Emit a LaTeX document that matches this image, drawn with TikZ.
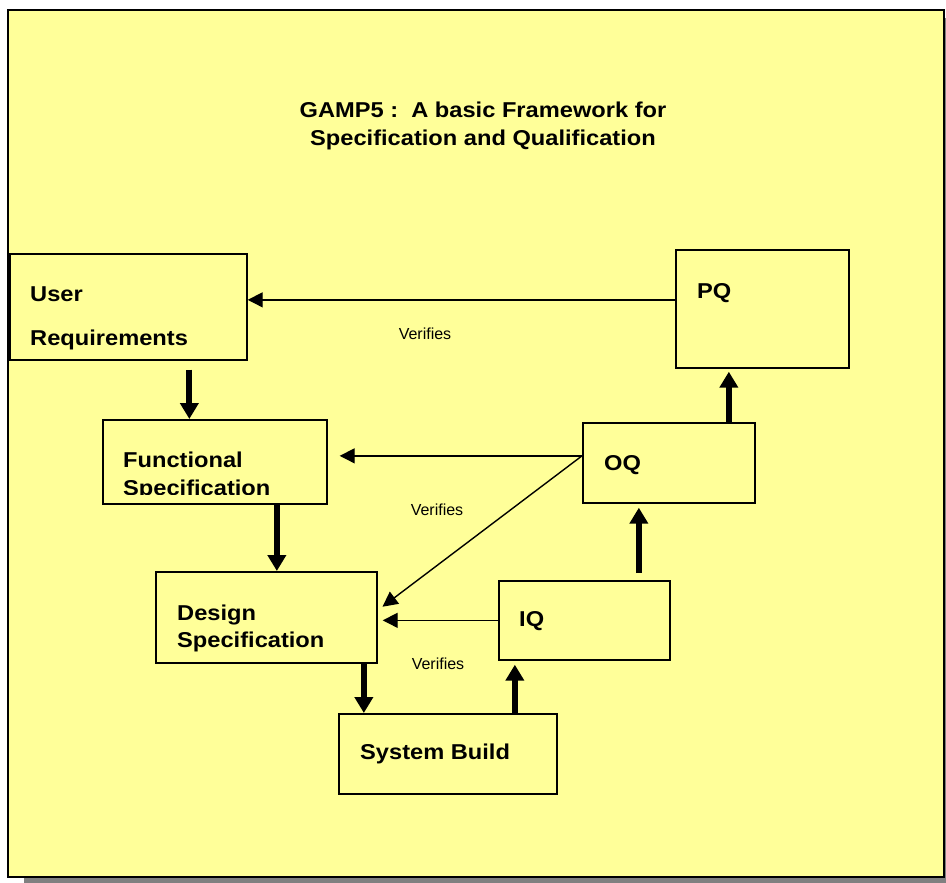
\documentclass[tikz,border=0pt]{standalone}
\usepackage{fontspec}
\setmainfont{Liberation Sans}
\newfontfamily\boxfont[FakeStretch=1.1]{Liberation Sans}
\usetikzlibrary{arrows.meta,positioning}
\definecolor{paper}{HTML}{FFFF99}
\tikzset{
  stage/.style={draw,line width=1.7pt,fill=paper,anchor=north west,inner sep=0pt},
  stagetext/.style={anchor=north west,inner sep=0pt,align=left,font=\boxfont\bfseries\fontsize{21.5}{27}\selectfont},
  verif/.style={font=\fontsize{16}{18}\selectfont,inner sep=0pt},
  thinarrow/.style={line width=1.4pt,-{Triangle[length=15pt,width=15pt]}},
  fatarrow/.style={line width=6pt,-{Triangle[length=16pt,width=18pt]}}
}
\begin{document}
\begin{tikzpicture}[x=1pt,y=-1pt]
    \useasboundingbox (0,0) rectangle (946,883);
    \fill[gray] (24,18) rectangle (952,884);
    \draw[fill=paper,line width=2pt] (8,10) rectangle (944,877);
    \node[anchor=north,align=center,inner sep=0pt,font=\boxfont\bfseries\fontsize{21.5}{28}\selectfont] (title) at (483,102) {GAMP5 :\ \ A basic Framework for\\Specification and Qualification};
    \node[stage,minimum width=237pt,minimum height=106pt] (ur) at (9,253) {};
    \node[stage,minimum width=224pt,minimum height=84pt] (fs) at (102,419) {};
    \node[stage,minimum width=173pt,minimum height=118pt] (pq) at (675,249) {};
    \node[stage,minimum width=172pt,minimum height=80pt] (oq) at (582,422) {};
    \node[stage,minimum width=221pt,minimum height=91pt] (ds) at (155,571) {};
    \node[stage,minimum width=171pt,minimum height=79pt] (iq) at (498,580) {};
    \node[stage,minimum width=218pt,minimum height=80pt] (sb) at (338,713) {};
    \node[stagetext,font=\boxfont\bfseries\fontsize{21.5}{44}\selectfont,below right=34pt and 21pt of ur.north west] (urtext) {User\\Requirements};
    \begin{scope}
        \clip (fs.north west) rectangle ([yshift=10pt]fs.south east);
        \node[stagetext,font=\boxfont\bfseries\fontsize{21.5}{28}\selectfont,below right=33pt and 21pt of fs.north west] (fstext) {Functional\\Specification};
    \end{scope}
    \node[stagetext,below right=34pt and 22pt of ds.north west] (dstext) {Design\\Specification};
    \node[stagetext,below right=34pt and 22pt of pq.north west] (pqtext) {PQ};
    \node[stagetext,below right=33pt and 22pt of oq.north west] (oqtext) {OQ};
    \node[stagetext,below right=31pt and 21pt of iq.north west] (iqtext) {IQ};
    \node[stagetext,below right=31pt and 22pt of sb.north west] (sbtext) {System Build};
    \node[verif] (verif1) at (425,334) {Verifies};
    \node[verif] (verif2) at (437,510) {Verifies};
    \node[verif] (verif3) at (438,664) {Verifies};
    \coordinate (pqout) at ([yshift=9pt]pq.west);
    \coordinate (oqout) at ([yshift=7pt]oq.west);
    \coordinate (dsin) at ([yshift=7pt]ds.east);
    \draw[thinarrow] (pqout) -- (pqout -| ur.east);
    \draw[thinarrow,shorten >=12pt] (oqout) -- (oqout -| fs.east);
    \draw[thinarrow,shorten >=6pt] (oqout) -- (dsin);
    \draw[thinarrow,shorten >=5pt] (iq.west) -- (iq.west -| ds.east);
    \coordinate (urdown) at ([xshift=61pt]ur.south);
    \coordinate (fsdown) at ([xshift=62pt]fs.south);
    \coordinate (dsdown) at ([xshift=97.5pt]ds.south);
    \coordinate (sbup) at ([xshift=67pt]sb.north);
    \coordinate (iqup) at ([xshift=54.5pt]iq.north);
    \coordinate (oqup) at ([xshift=60pt]oq.north);
    \draw[fatarrow,shorten <=9pt] (urdown) -- (urdown |- fs.north);
    \draw[fatarrow] (fsdown) -- (fsdown |- ds.north);
    \draw[fatarrow] (dsdown) -- (dsdown |- sb.north);
    \draw[fatarrow,shorten >=4pt] (sbup) -- (sbup |- iq.south);
    \draw[fatarrow,shorten <=7pt,shorten >=4pt] (iqup) -- (iqup |- oq.south);
    \draw[fatarrow,shorten >=3pt] (oqup) -- (oqup |- pq.south);
\end{tikzpicture}
\end{document}
